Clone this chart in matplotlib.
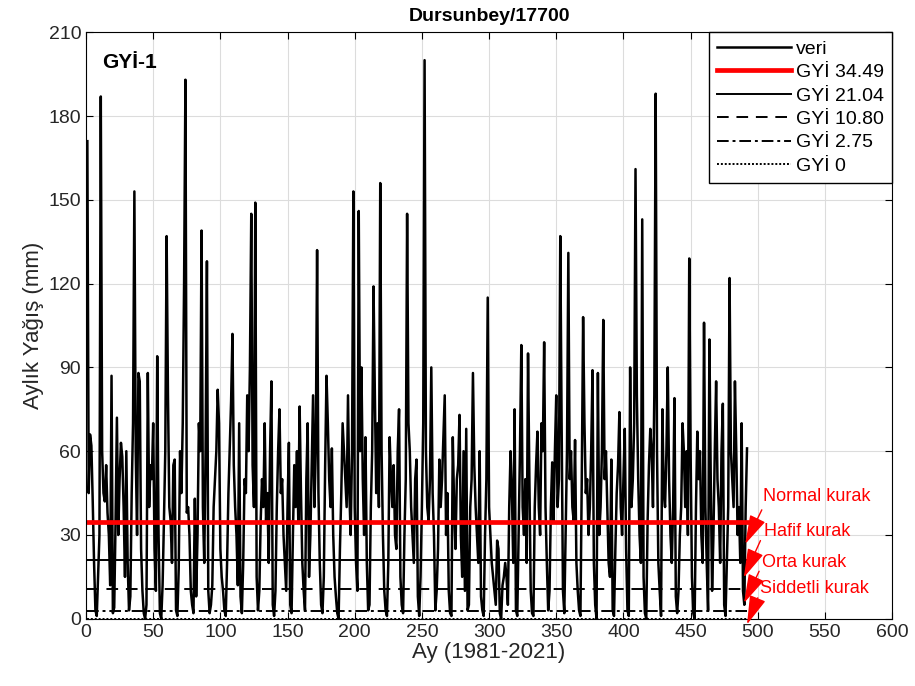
import numpy as np
import matplotlib
matplotlib.use("Agg")
import matplotlib.pyplot as plt

plt.rcParams['font.family'] = ['Liberation Sans', 'DejaVu Sans']

# === Data: monthly rainfall (mm), Jan 1981 - Dec 2021 ===
monthly_rain = [
    171, 45, 66, 62, 42, 20, 3, 1, 15, 30, 187, 60,
    45, 42, 55, 38, 30, 12, 87, 2, 4, 35, 72, 30,
    50, 63, 58, 40, 15, 60, 20, 3, 8, 45, 70, 153,
    60, 30, 88, 85, 25, 10, 2, 0, 5, 88, 40, 55,
    50, 70, 25, 10, 94, 30, 2, 0, 12, 35, 60, 137,
    80, 40, 35, 20, 55, 57, 3, 1, 18, 60, 45, 70,
    120, 193, 38, 40, 30, 10, 5, 2, 43, 8, 30, 70,
    60, 139, 40, 20, 60, 128, 10, 2, 5, 12, 40, 50,
    60, 82, 70, 25, 15, 10, 3, 1, 20, 45, 62, 78,
    102, 55, 40, 30, 12, 70, 8, 2, 20, 50, 45, 80,
    60, 90, 145, 55, 40, 149, 15, 3, 10, 35, 50, 40,
    70, 35, 45, 20, 60, 85, 5, 1, 10, 40, 60, 75,
    45, 50, 30, 20, 10, 40, 63, 5, 2, 30, 55, 40,
    60, 35, 76, 45, 20, 10, 3, 50, 70, 15, 30, 55,
    80, 40, 60, 132, 45, 20, 5, 2, 15, 55, 87, 70,
    50, 40, 61, 30, 15, 8, 2, 0, 25, 45, 70, 60,
    50, 40, 80, 45, 30, 60, 153, 40, 20, 10, 146, 60,
    90, 50, 30, 65, 20, 3, 5, 40, 60, 119, 80, 45,
    70, 40, 156, 60, 30, 10, 3, 1, 20, 65, 50, 40,
    55, 30, 25, 60, 75, 15, 5, 2, 30, 50, 145, 70,
    60, 40, 30, 20, 50, 57, 8, 1, 15, 40, 70, 200,
    60, 40, 35, 50, 90, 45, 30, 3, 10, 25, 57, 40,
    50, 65, 80, 30, 45, 10, 2, 1, 65, 40, 25, 50,
    55, 73, 30, 15, 60, 10, 68, 3, 5, 40, 50, 88,
    55, 40, 30, 20, 60, 8, 3, 1, 30, 50, 115, 40,
    30, 20, 15, 10, 5, 28, 25, 2, 0, 12, 15, 20,
    15, 5, 40, 60, 45, 20, 75, 3, 1, 30, 60, 98,
    40, 30, 50, 20, 95, 50, 10, 2, 1, 40, 55, 67,
    40, 30, 70, 60, 99, 40, 20, 3, 10, 40, 56, 35,
    60, 80, 40, 50, 137, 70, 10, 2, 30, 60, 131, 50,
    60, 40, 35, 64, 20, 10, 3, 1, 50, 108, 70, 45,
    50, 30, 40, 60, 89, 20, 5, 0, 88, 30, 40, 60,
    107, 50, 60, 40, 20, 15, 57, 3, 1, 25, 45, 55,
    74, 40, 30, 50, 68, 25, 3, 1, 90, 40, 50, 70,
    161, 80, 50, 30, 20, 143, 15, 2, 0, 35, 55, 68,
    60, 40, 80, 188, 60, 20, 10, 1, 75, 45, 40, 60,
    90, 50, 30, 20, 40, 79, 8, 2, 10, 30, 40, 70,
    60, 40, 60, 30, 129, 60, 15, 2, 0, 40, 67, 50,
    60, 30, 20, 106, 40, 20, 3, 100, 50, 10, 30, 60,
    85, 50, 40, 20, 60, 77, 5, 1, 20, 40, 122, 60,
    50, 40, 85, 60, 30, 40, 20, 70, 10, 5, 40, 61,
]

# drought thresholds (GYİ)
thresholds = [34.49, 21.04, 10.80, 2.75, 0]
threshold_labels = ["GYİ 34.49", "GYİ 21.04", "GYİ 10.80", "GYİ 2.75", "GYİ 0"]
drought_classes = ["Normal kurak", "Hafif kurak", "Orta kurak", "Siddetli kurak"]

months = np.arange(1, len(monthly_rain) + 1)

fig = plt.figure(figsize=(9.15, 6.86), dpi=100)
ax = fig.add_axes([0.094, 0.098, 0.881, 0.855])

ax.plot(months, monthly_rain, color="black", lw=1.8, label="veri")

styles = [
    dict(color="red", lw=3.4, ls="-"),
    dict(color="black", lw=1.4, ls="-"),
    dict(color="black", lw=1.4, ls=(0, (6, 4))),
    dict(color="black", lw=1.4, ls=(0, (6, 2, 1.5, 2))),
    dict(color="black", lw=1.4, ls=(0, (1, 1))),
]
x_end = months[-1]
for val, lab, st in zip(thresholds, threshold_labels, styles):
    ax.plot([1, x_end], [val, val], label=lab, **st)

# === Annotations (text + separate arrows) ===
text_pos = [(504, 43.6), (505, 31.1), (503.4, 20.2), (502, 10.7)]
tail_pos = [(503, 39), (502, 28), (501, 17), (500, 7.5)]
tip_pos = [(490.7, 26.8), (489.6, 14.8), (489.8, 5.7), (492, -2)]
for lab, tp, tl, ap in zip(drought_classes, text_pos, tail_pos, tip_pos):
    ax.text(tp[0], tp[1], lab, color="red", fontsize=13, va="center",
            ha="left", clip_on=False)
    ax.annotate("", xy=ap, xytext=tl, annotation_clip=False,
                arrowprops=dict(arrowstyle="-|>,head_length=1.2,head_width=0.35",
                                color="red", lw=1, mutation_scale=15,
                                shrinkA=0, shrinkB=0))

ax.text(12, 199, "GYİ-1", fontsize=15, fontweight="bold", va="center", ha="left")

ax.set_xlim(0, 600)
ax.set_ylim(0, 210)
ax.set_xticks(np.arange(0, 601, 50))
ax.set_yticks(np.arange(0, 211, 30))
ax.grid(True, color="#dcdcdc", lw=0.8)
ax.set_axisbelow(True)
ax.tick_params(direction="in", top=True, right=True, labelsize=14,
               labelcolor="#262626", length=5)
ax.set_title("Dursunbey/17700", fontsize=14, fontweight="bold", pad=8)
ax.set_xlabel("Ay (1981-2021)", fontsize=16, color="#262626", labelpad=1)
ax.set_ylabel("Aylık Yağış (mm)", fontsize=16, color="#262626", labelpad=3)

leg = ax.legend(loc="upper right", fontsize=14, handlelength=3.8,
                frameon=True, fancybox=False, borderaxespad=0,
                labelspacing=0.3, handletextpad=0.3, borderpad=0.4)
leg.get_frame().set_edgecolor("black")
leg.get_frame().set_linewidth(1.0)
leg.get_frame().set_alpha(1)

fig.savefig("out.png", dpi=100)
